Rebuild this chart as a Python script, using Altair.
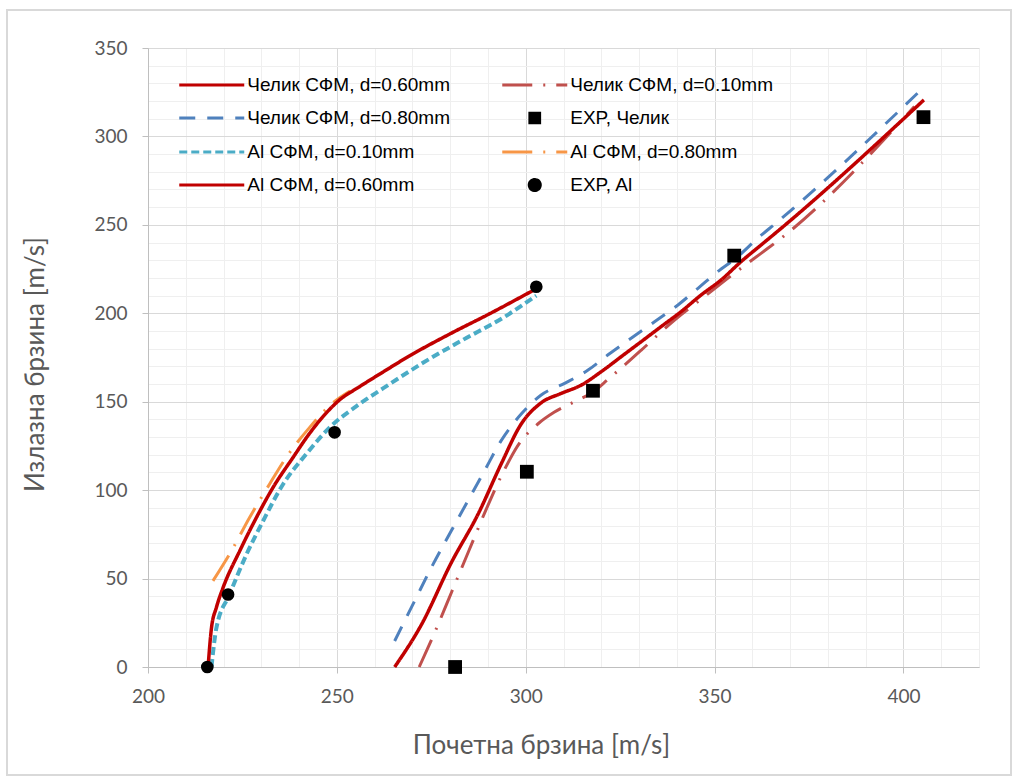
import altair as alt
import pandas as pd

# ---- series names ----
S060 = "Челик СФМ, d=0.60mm"
S010 = "Челик СФМ, d=0.10mm"
S080 = "Челик СФМ, d=0.80mm"
EXP_S = "EXP, Челик"
A010 = "Al СФМ, d=0.10mm"
A080 = "Al СФМ, d=0.80mm"
A060 = "Al СФМ, d=0.60mm"
EXP_A = "EXP, Al"
# legend is filled column by column (2 columns x 4 rows)
legend_order = [S060, S080, A010, A060, S010, EXP_S, A080, EXP_A]

# ---- data ----
steel060_x = [265.3, 272.4, 280.3, 287.4, 293.5, 298.8, 304.1, 309.4, 314.7, 320.0, 325.3,
              330.6, 335.8, 341.1, 346.4, 351.7, 357.0, 362.3, 367.6, 405.4]
steel060_y = [0, 24, 59, 86.5, 114.8, 137.4, 149.4, 154.7, 159.4, 167, 175.5,
              184, 192.4, 200.9, 210.3, 218.8, 229.2, 238.6, 248, 320.6]

steel080_x = [265.3, 270.6, 275.0, 280.3, 284.7, 289.1, 293.5, 298.8, 304.1, 310.3, 316.5,
              321.7, 327.9, 334.1, 340.3, 345.6, 350.8, 356.1, 361.4, 366.7, 406.0]
steel080_y = [14.7, 37.4, 56.2, 77, 94, 111, 128, 143, 153.8, 160.4, 167.9,
              176.4, 185.9, 195.2, 204.7, 214.1, 223.5, 232, 242.4, 251.8, 329.1]

steel010_x = [271.8, 276.0, 280.5, 285.0, 289.5, 294.0, 298.5, 303.2, 307.5, 312.9, 317.8,
              321.7, 330.6, 339.4, 347.3, 355.2, 362.3, 367.6, 402.9]
steel010_y = [0, 20, 43, 66, 89, 110, 127, 137.4, 144, 150, 155.5,
              162.5, 179.2, 196.2, 209.4, 222.6, 233.9, 242.4, 316.9]

al060_x = [215.9, 216.8, 218.1, 219.9, 224.3, 228.7, 233.1, 238.4, 242.4, 246.5, 250.7,
           256.0, 262.0, 269.3, 279.9, 290.4, 302.8]
al060_y = [0, 22, 33.6, 45, 65.7, 84.5, 101.5, 118.5, 131, 142, 151,
           158.5, 166.5, 176, 188.3, 199.7, 213.9]

al010_x = [216.8, 218.1, 221.6, 226.1, 230.5, 235.8, 241.9, 248.1, 255.2, 262.2, 272.8,
           283.4, 294.0, 302.8]
al010_y = [0, 22, 41, 63.8, 82.7, 103.5, 120.4, 135.5, 147.5, 157.5, 172,
           185, 197.5, 210]

al080_x = [217.2, 222.1, 226.9, 232.2, 236.6, 242.8, 248.5, 253.5]
al080_y = [48.7, 65.7, 84.5, 103.5, 118.5, 135.5, 148.5, 156]

exp_steel_x = [281.3, 300.3, 317.8, 355.2, 405.3]
exp_steel_y = [0, 110.4, 156.2, 232.6, 310.9]

exp_al_x = [215.7, 221.2, 249.4, 302.8]
exp_al_y = [0, 41, 132.7, 215]

x_ticks = list(range(200, 421, 10))
y_ticks = list(range(0, 351, 10))

# ---- styles ----
styles = {
    S060: dict(color="#c00000", dash=[1, 0], width=3.5),
    S080: dict(color="#4f81bd", dash=[16, 12], width=3),
    S010: dict(color="#c0504d", dash=[30, 11, 2, 11], width=3),
    A010: dict(color="#4bacc6", dash=[8, 4], width=4),
    A080: dict(color="#f79646", dash=[30, 11, 2, 11], width=3),
    A060: dict(color="#c00000", dash=[1, 0], width=3.5),
}

series = [
    (S060, steel060_x, steel060_y),
    (S080, steel080_x, steel080_y),
    (S010, steel010_x, steel010_y),
    (A010, al010_x, al010_y),
    (A080, al080_x, al080_y),
    (A060, al060_x, al060_y),
    (EXP_S, exp_steel_x, exp_steel_y),
    (EXP_A, exp_al_x, exp_al_y),
]
rows = []
for name, xs, ys in series:
    for i, (xv, yv) in enumerate(zip(xs, ys)):
        rows.append({"series": name, "x": xv, "y": yv, "i": i})
df = pd.DataFrame(rows)

major = "datum.value % 50 === 0"
LABEL_FONT = "Lato"
AX_GRAY = "#595959"

x_axis = alt.Axis(
    values=x_ticks,
    labelExpr=f"{major} ? datum.label : ''",
    gridColor={"condition": {"test": major, "value": "#d9d9d9"}, "value": "#efefef"},
    tickColor={"condition": {"test": major, "value": "#bfbfbf"}, "value": "transparent"},
    domainColor="#bfbfbf",
    tickSize=6,
    labelPadding=14,
    labelFont=LABEL_FONT, labelFontSize=19, labelColor=AX_GRAY,
    labelFlush=False, labelOverlap=False,
    title="Почетна брзина [m/s]",
    titleFont=LABEL_FONT, titleFontSize=26, titleFontWeight="normal", titleColor=AX_GRAY,
    titleX=393, titleY=78, titleBaseline="middle", titleAlign="center",
)
y_axis = alt.Axis(
    values=y_ticks,
    labelExpr=f"{major} ? datum.label : ''",
    gridColor={"condition": {"test": major, "value": "#d9d9d9"}, "value": "#efefef"},
    tickColor={"condition": {"test": major, "value": "#bfbfbf"}, "value": "transparent"},
    domainColor="#bfbfbf",
    tickSize=6,
    labelPadding=15,
    labelFont=LABEL_FONT, labelFontSize=19, labelColor=AX_GRAY,
    labelFlush=False, labelOverlap=False,
    title="Излазна брзина [m/s]",
    titleFont=LABEL_FONT, titleFontSize=26, titleFontWeight="normal", titleColor=AX_GRAY,
    titleX=-113, titleY=316, titleBaseline="middle", titleAlign="center", titleAngle=270,
)

base = alt.Chart(df).encode(
    x=alt.X("x:Q", scale=alt.Scale(domain=[200, 420], nice=False, zero=False), axis=x_axis),
    y=alt.Y("y:Q", scale=alt.Scale(domain=[0, 350], nice=False, zero=False), axis=y_axis),
    order="i:Q",
)

layers = []
for name in [S080, S010, S060, A010, A080, A060]:
    st = styles[name]
    layers.append(
        base.transform_filter(alt.datum.series == name).mark_line(
            interpolate="monotone", color=st["color"], strokeDash=st["dash"],
            strokeWidth=st["width"]
        )
    )
layers.append(
    base.transform_filter(alt.datum.series == EXP_S).mark_point(
        shape="square", filled=True, color="black", size=190, opacity=1
    )
)
layers.append(
    base.transform_filter(alt.datum.series == EXP_A).mark_point(
        shape="circle", filled=True, color="black", size=160, opacity=1
    )
)

# ---- legend (built from scales over the series names) ----
# symbol box is 32.5 px; the line glyph spans twice that (65 px)
line_glyph = "M-2,0H2"
sq = "M-0.3,-0.3H0.3V0.3H-0.3Z"
ci = "M0.34,0A0.34,0.34,0,1,1,-0.34,0A0.34,0.34,0,1,1,0.34,0Z"
shape_of = {EXP_S: sq, EXP_A: ci}
leg_stroke = [styles[n]["color"] if n in styles else "black" for n in legend_order]
leg_fill = ["transparent" if n in styles else "black" for n in legend_order]
leg_shape = [shape_of.get(n, line_glyph) for n in legend_order]
leg_dash = [styles[n]["dash"] if n in styles else [1, 0] for n in legend_order]

legend = alt.Legend(
    title=None, orient="none", legendX=31, legendY=19, columns=2,
    symbolSize=1056, symbolStrokeWidth=3, symbolOpacity=1, symbolOffset=14.75,
    labelFont="Liberation Sans", labelFontSize=19, labelColor="black", labelOffset=17.5,
    rowPadding=5, columnPadding=46, padding=0, labelLimit=400,
)
leg_df = pd.DataFrame({"series": legend_order})
leg_layer = alt.Chart(leg_df).transform_filter("false").mark_point(opacity=1).encode(
    stroke=alt.Stroke("series:N", scale=alt.Scale(domain=legend_order, range=leg_stroke), legend=legend),
    fill=alt.Fill("series:N", scale=alt.Scale(domain=legend_order, range=leg_fill), legend=legend),
    shape=alt.Shape("series:N", scale=alt.Scale(domain=legend_order, range=leg_shape), legend=legend),
    strokeDash=alt.StrokeDash("series:N", scale=alt.Scale(domain=legend_order, range=leg_dash), legend=legend),
)

frame = alt.Chart(pd.DataFrame({"a": [0]})).mark_rect(
    fill="transparent", stroke="#d9d9d9", strokeWidth=2
).encode(x=alt.value(-141), x2=alt.value(863), y=alt.value(-38), y2=alt.value(727))

chart = alt.layer(frame, *layers, leg_layer).properties(
    width=831, height=619,
    autosize=alt.AutoSizeParams(type="none"),
    padding={"left": 148, "top": 48, "right": 41, "bottom": 114},
    background="white",
).configure_view(stroke=None)

chart.save("out.html", embed_options={"renderer": "svg", "actions": False})
